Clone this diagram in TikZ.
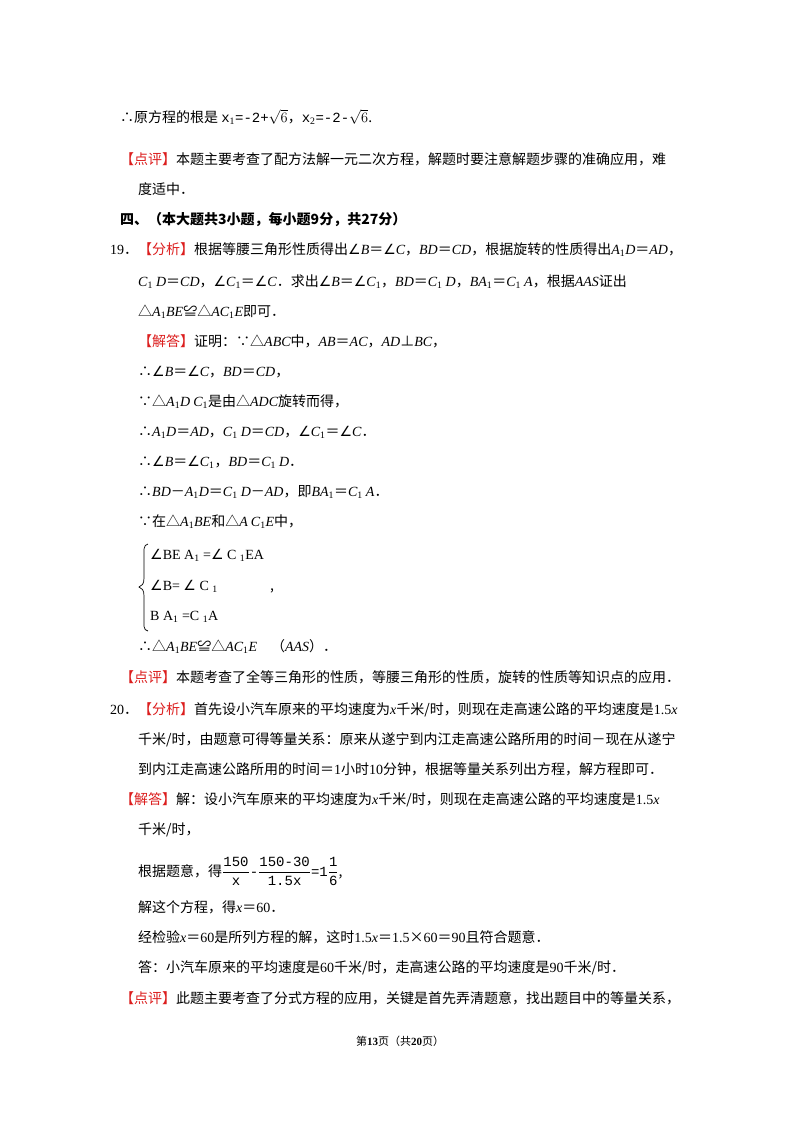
\documentclass[tikz,border=0pt]{standalone}
\usepackage{fontspec}
\setmainfont{Noto Sans CJK SC}
\newfontfamily\tnr{Liberation Serif}
\newfontfamily\mono{Liberation Mono}
\newfontfamily\djv{DejaVu Sans}
\usepackage{xcolor}
\definecolor{rd}{RGB}{220,30,30}
\newcommand{\vi}[1]{{\tnr\itshape #1}}
\newcommand{\vr}[1]{{\tnr #1}}
\newcommand{\sub}[1]{\textsubscript{\tnr #1}}
\newcommand{\tag}[1]{{\color{rd}【#1】}}
\newcommand{\ang}{{\djv ∠}}
\begin{document}
\begin{tikzpicture}[x=1pt,y=-1pt,every node/.style={anchor=base west,inner sep=0pt,font=\fontsize{14}{16}\selectfont}]
\useasboundingbox[fill=white] (0,0) rectangle (800,1132);
\node (a1) at (120,122) {∴原方程的根是 {\mono x\sub{1}=-2+$\sqrt{6}$}，{\mono x\sub{2}=-2-$\sqrt{6}$}.};
\node (a2) at (120,164) {\tag{点评}本题主要考查了配方法解一元二次方程，解题时要注意解题步骤的准确应用，难};
\node (a3) at (138,194) {度适中．};
\node (a4) at (120,224) {\bfseries 四、（本大题共3小题，每小题9分，共27分）};
\node (b1) at (110,254) {\vr{19}．\tag{分析}根据等腰三角形性质得出\ang\vi{B}＝\ang\vi{C}，\vi{BD}＝\vi{CD}，根据旋转的性质得出\vi{A}\sub{1}\vi{D}＝\vi{AD}，};
\node (b2) at (138,286) {\vi{C}\sub{1} \vi{D}＝\vi{CD}，\ang\vi{C}\sub{1}＝\ang\vi{C}．求出\ang\vi{B}＝\ang\vi{C}\sub{1}，\vi{BD}＝\vi{C}\sub{1} \vi{D}，\vi{BA}\sub{1}＝\vi{C}\sub{1} \vi{A}，根据\vi{AAS}证出};
\node (b3) at (138,316) {△\vi{A}\sub{1}\vi{BE}≌△\vi{AC}\sub{1}\vi{E}即可．};
\node (b4) at (138,346) {\tag{解答}证明：∵△\vi{ABC}中，\vi{AB}＝\vi{AC}，\vi{AD}⊥\vi{BC}，};
\node (b5) at (138,376) {∴\ang\vi{B}＝\ang\vi{C}，\vi{BD}＝\vi{CD}，};
\node (b6) at (138,406) {∵△\vi{A}\sub{1}\vi{D} \vi{C}\sub{1}是由△\vi{ADC}旋转而得，};
\node (b7) at (138,436) {∴\vi{A}\sub{1}\vi{D}＝\vi{AD}，\vi{C}\sub{1} \vi{D}＝\vi{CD}，\ang\vi{C}\sub{1}＝\ang\vi{C}．};
\node (b8) at (138,466) {∴\ang\vi{B}＝\ang\vi{C}\sub{1}，\vi{BD}＝\vi{C}\sub{1} \vi{D}．};
\node (b9) at (138,496) {∴\vi{BD}－\vi{A}\sub{1}\vi{D}＝\vi{C}\sub{1} \vi{D}－\vi{AD}，即\vi{BA}\sub{1}＝\vi{C}\sub{1} \vi{A}．};
\node (b10) at (138,526) {∵在△\vi{A}\sub{1}\vi{BE}和△\vi{A} \vi{C}\sub{1}\vi{E}中，};
\draw[line width=0.7pt] (148,544) .. controls (143,545) and (144,550) .. (144,560) -- (144,578) .. controls (144,584) and (142,586) .. (139,587) .. controls (142,588) and (144,590) .. (144,596) -- (144,616) .. controls (144,626) and (143,630) .. (148,631);
\node (c1) at (150,559) {{\djv ∠}\tnr BE A\sub{1} ={\djv ∠} C \sub{1}EA};
\node (c2) at (150,590) {{\djv ∠}\tnr B= {\djv ∠} C \sub{1}};
\node (cc) at (270,590) {,};
\node (c3) at (150,620) {\tnr B A\sub{1} =C \sub{1}A};
\node (b11) at (138,651) {∴△\vi{A}\sub{1}\vi{BE}≌△\vi{AC}\sub{1}\vi{E}\quad （\vi{AAS}）．};
\node (b12) at (120,682) {\tag{点评}本题考查了全等三角形的性质，等腰三角形的性质，旋转的性质等知识点的应用．};
\node (d1) at (110,714) {\vr{20}．\tag{分析}首先设小汽车原来的平均速度为\vi{x}千米/时，则现在走高速公路的平均速度是\vr{1.5}\vi{x}};
\node (d2) at (138,744) {千米/时，由题意可得等量关系：原来从遂宁到内江走高速公路所用的时间－现在从遂宁};
\node (d3) at (138,774) {到内江走高速公路所用的时间＝\vr{1}小时\vr{10}分钟，根据等量关系列出方程，解方程即可．};
\node (d4) at (120,804) {\tag{解答}解：设小汽车原来的平均速度为\vi{x}千米/时，则现在走高速公路的平均速度是\vr{1.5}\vi{x}};
\node (d5) at (138,834) {千米/时，};
\node (d6) at (138,876) {根据题意，得{\mono$\displaystyle\frac{\hbox{\mono 150}}{\hbox{\mono x}}$-$\displaystyle\frac{\hbox{\mono 150-30}}{\hbox{\mono 1.5x}}$=1$\displaystyle\frac{\hbox{\mono 1}}{\hbox{\mono 6}}$},};
\node (d7) at (138,912) {解这个方程，得\vi{x}＝\vr{60}．};
\node (d8) at (138,942) {经检验\vi{x}＝\vr{60}是所列方程的解，这时\vr{1.5}\vi{x}＝\vr{1.5}×\vr{60}＝\vr{90}且符合题意．};
\node (d9) at (138,972) {答：小汽车原来的平均速度是\vr{60}千米/时，走高速公路的平均速度是\vr{90}千米/时．};
\node (d10) at (120,1003) {\tag{点评}此题主要考查了分式方程的应用，关键是首先弄清题意，找出题目中的等量关系，};
\node (f) at (400,1045) [anchor=base,font=\fontsize{11}{13}\selectfont] {第{\bfseries\tnr 13}页（共{\bfseries\tnr 20}页）};
\end{tikzpicture}
\end{document}
